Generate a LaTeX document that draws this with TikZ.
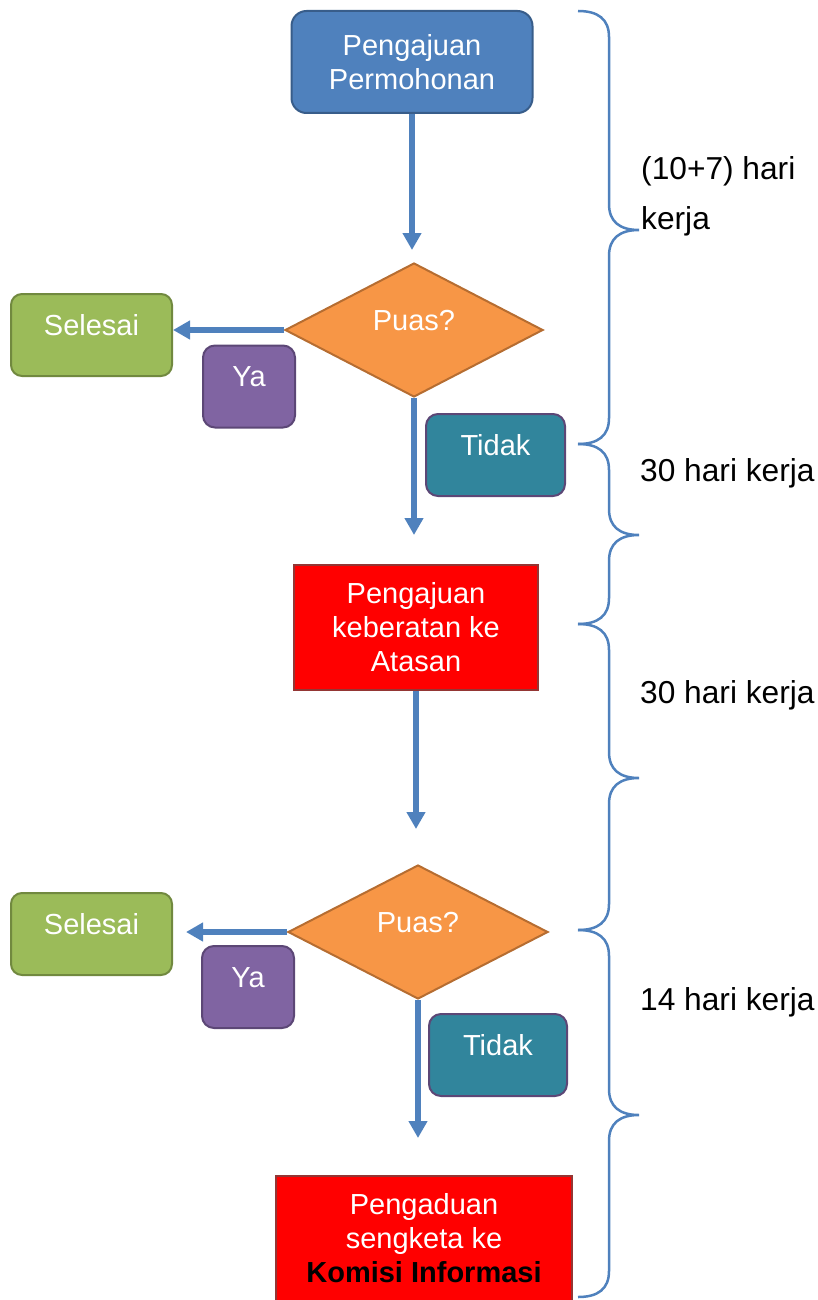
\documentclass[tikz,border=0pt]{standalone}
\usepackage{fontspec}
\setmainfont{Liberation Sans}
\usetikzlibrary{shapes.geometric,arrows.meta}
\definecolor{ablue}{HTML}{4F81BD}
\definecolor{bblueb}{HTML}{385D8A}
\definecolor{orangef}{HTML}{F79646}
\definecolor{oranged}{HTML}{B66D31}
\definecolor{greenf}{HTML}{9BBB59}
\definecolor{greend}{HTML}{71893F}
\definecolor{purplef}{HTML}{8064A2}
\definecolor{purpled}{HTML}{5C4776}
\definecolor{tealf}{HTML}{31859C}
\definecolor{redd}{HTML}{943634}
\newcommand{\drawbrace}[3]{%
  \draw[bracestyle] (578,#1) .. controls (598,#1) and (609,{#1+8}) .. (609,{#1+26})
    -- (609,{#2-26}) .. controls (609,{#2-8}) and (620,#2) .. (639,#2)
    .. controls (620,#2) and (609,{#2+8}) .. (609,{#2+26})
    -- (609,{#3-26}) .. controls (609,{#3-8}) and (598,#3) .. (578,#3);}
\begin{document}
\begin{tikzpicture}[x=1pt,y=-1pt,
  boxtext/.style={text=white, font=\fontsize{29}{34}\selectfont, align=center, inner sep=0pt, line width=2pt},
  uptext/.style={text height=12pt, text depth=12pt},
  startbox/.style={boxtext, draw=bblueb, fill=ablue, rounded corners=15pt, minimum width=241pt, minimum height=102pt},
  decision/.style={boxtext, uptext, diamond, draw=oranged, fill=orangef, minimum width=258pt, minimum height=134pt},
  endbox/.style={boxtext, uptext, draw=greend, fill=greenf, rounded corners=11pt, minimum width=161pt, minimum height=82pt},
  yabox/.style={boxtext, uptext, draw=purpled, fill=purplef, rounded corners=12pt, minimum width=92pt, minimum height=82pt},
  nobox/.style={boxtext, uptext, draw=purpled, fill=tealf, rounded corners=12pt, minimum width=139pt, minimum height=82pt},
  redbox/.style={boxtext, draw=redd, fill=red, minimum height=125pt},
  arr/.style={draw=ablue, line width=5.5pt, -{Triangle[length=17pt,width=18pt]}},
  bracestyle/.style={draw=ablue, line width=2.5pt},
  lbl/.style={font=\fontsize{31.7}{50}\selectfont, text=black, inner sep=0pt, align=left}]
\useasboundingbox (0,0) rectangle (818,1300);

% nodes
\node[startbox] (pp) at (412,62) {Pengajuan\\Permohonan};
\node[decision] (d1) at (414,330) {Puas?};
\node[endbox] (s1) at (91.5,335) {Selesai};
\node[yabox] (y1) at (249,386.5) {Ya};
\node[nobox] (n1) at (495.5,455) {Tidak};
\node[redbox, minimum width=244pt] (r1) at (416,627.5) {Pengajuan\\keberatan ke\\Atasan};
\node[decision, minimum width=260pt] (d2) at (418,932) {Puas?};
\node[endbox] (s2) at (91.5,934) {Selesai};
\node[yabox] (y2) at (248,987) {Ya};
\node[nobox, minimum width=138pt] (n2) at (498,1055) {Tidak};
\node[redbox, minimum width=296pt] (r2) at (424,1238.5) {Pengaduan\\sengketa ke\\\textcolor{black}{\bfseries Komisi Informasi}};

% arrow tips
\coordinate (t1) at (412,250);
\coordinate (t2) at (173,330);
\coordinate (t3) at (414,535);
\coordinate (t4) at (416,829);
\coordinate (t5) at (186,932);
\coordinate (t6) at (418,1138);

\draw[arr] (pp.south) -- (t1);
\draw[arr] (d1.west) -- (t2);
\draw[arr] (d1.south) -- (t3);
\draw[arr] (r1.south) -- (t4);
\draw[arr] (d2.west) -- (t5);
\draw[arr] (d2.south) -- (t6);

% braces
\drawbrace{11}{230}{444}
\drawbrace{444}{535}{624}
\drawbrace{624}{778}{930}
\drawbrace{930}{1115}{1297}

% labels
\node[lbl, anchor=base west] (l1) at (641,229) {(10+7) hari\\kerja};
\node[lbl, anchor=base west] (l2) at (640,481) {30 hari kerja};
\node[lbl, anchor=base west] (l3) at (640,703) {30 hari kerja};
\node[lbl, anchor=base west] (l4) at (640,1010) {14 hari kerja};
\end{tikzpicture}
\end{document}
